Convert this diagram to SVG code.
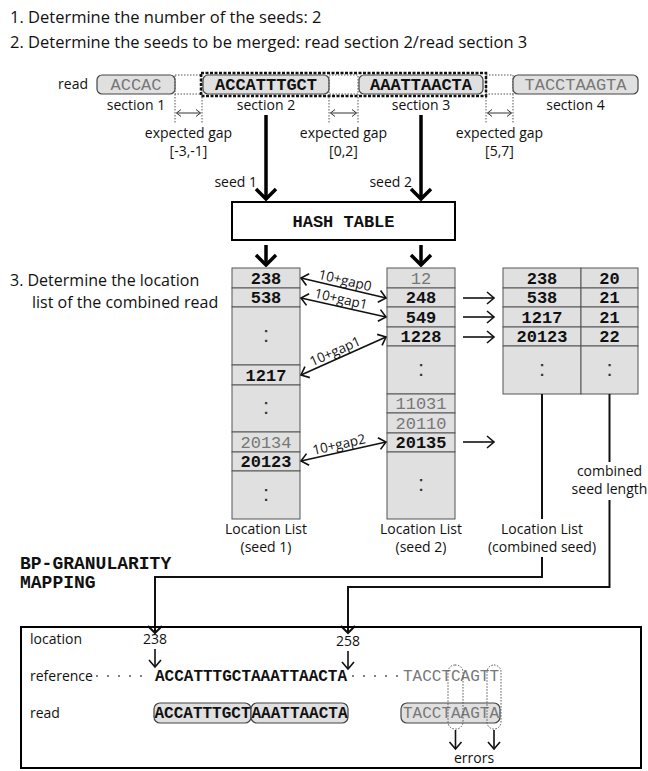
<svg xmlns="http://www.w3.org/2000/svg" width="648" height="771" viewBox="0 0 648 771">
<defs>
<style>
.t{font-family:"Open Sans","Liberation Sans",sans-serif;fill:#111}
.t16{font-size:16.5px}
.t14{font-size:14px}
.lab{font-size:13.5px}
.m{font-family:"Liberation Mono","DejaVu Sans Mono",monospace;fill:#111}
.b{font-weight:bold}
.g{fill:#777}
.c{text-anchor:middle}
.m17{font-size:17px}
.m16{font-size:16px}
.col{font-family:"Liberation Sans",sans-serif;font-size:22px;fill:#333;text-anchor:middle}
.cell{fill:#e0e0e0;stroke:#555;stroke-width:1}
.sec{fill:#e0e0e0;stroke:#444;stroke-width:1.2}
.dot{fill:none;stroke:#555;stroke-width:1;stroke-dasharray:1.5 1.5}
.thin{fill:none;stroke:#111;stroke-width:1.6}
.tiny{fill:none;stroke:#333;stroke-width:1}
.thick{fill:none;stroke:#000;stroke-width:3.5}
.conn{fill:none;stroke:#111;stroke-width:2}
.lead{fill:none;stroke:#444;stroke-width:1.8;stroke-dasharray:0 11;stroke-linecap:round}
</style>
<marker id="big" viewBox="-14 -12 16 24" refX="0" refY="0" markerWidth="16" markerHeight="24" markerUnits="userSpaceOnUse" orient="auto">
<path d="M-10,-10 L0,0 L-10,10" fill="none" stroke="#000" stroke-width="3.5"/>
</marker>
<marker id="sm" viewBox="-9 -8 11 16" refX="0" refY="0" markerWidth="11" markerHeight="16" markerUnits="userSpaceOnUse" orient="auto-start-reverse">
<path d="M-7,-6 L0,0 L-7,6" fill="none" stroke="#111" stroke-width="1.6"/>
</marker>
<marker id="tiny" viewBox="-6 -5 7 10" refX="0" refY="0" markerWidth="7" markerHeight="10" markerUnits="userSpaceOnUse" orient="auto-start-reverse">
<path d="M-4.5,-3.5 L0,0 L-4.5,3.5" fill="none" stroke="#333" stroke-width="1"/>
</marker>
<marker id="cn" viewBox="-9 -8 11 16" refX="0" refY="0" markerWidth="11" markerHeight="16" markerUnits="userSpaceOnUse" orient="auto">
<path d="M-7,-7 L0,0 L-7,7" fill="none" stroke="#111" stroke-width="2"/>
</marker>
</defs>

<g id="steps">
<text class="t t16" x="10" y="23">1. Determine the number of the seeds: 2</text>
<text class="t t16" x="10" y="48">2. Determine the seeds to be merged: read section 2/read section 3</text>
<text class="t" font-size="16" x="10" y="286">3. Determine the location</text>
<text class="t" font-size="16" x="32" y="308">list of the combined read</text>
</g>

<g id="read-top">
<text class="t t14" x="88" y="89" text-anchor="end">read</text>
<rect class="sec" x="97" y="75" width="78" height="19" rx="5"/>
<rect class="dot" x="175" y="75" width="27" height="19"/>
<rect class="sec" x="203" y="75" width="126" height="19" rx="5"/>
<rect class="dot" x="329" y="75" width="29" height="19"/>
<rect class="sec" x="359" y="75" width="124" height="19" rx="5"/>
<rect class="dot" x="486" y="75" width="27" height="19"/>
<rect class="sec" x="513" y="75" width="125" height="19" rx="5"/>
<rect x="201" y="73" width="285" height="23" fill="none" stroke="#111" stroke-width="2.5" stroke-dasharray="3 1.5"/>
<text class="m m17 g c" x="136" y="90">ACCAC</text>
<text class="m m17 b c" x="266" y="90">ACCATTTGCT</text>
<text class="m m17 b c" x="421" y="90">AAATTAACTA</text>
<text class="m m17 g c" x="575.5" y="90">TACCTAAGTA</text>
<text class="t t14 c" x="136" y="110">section 1</text>
<text class="t t14 c" x="266" y="110">section 2</text>
<text class="t t14 c" x="421" y="110">section 3</text>
<text class="t t14 c" x="575.5" y="110">section 4</text>
<path class="dot" d="M175,94V124M202,94V124M329,94V124M358,94V124M486,94V124M513,94V124"/>
<line class="tiny" x1="176.5" y1="113" x2="200.5" y2="113" marker-start="url(#tiny)" marker-end="url(#tiny)"/>
<line class="tiny" x1="330.5" y1="113" x2="356.5" y2="113" marker-start="url(#tiny)" marker-end="url(#tiny)"/>
<line class="tiny" x1="487.5" y1="113" x2="511.5" y2="113" marker-start="url(#tiny)" marker-end="url(#tiny)"/>
<text class="t t14 c" x="188.5" y="138">expected gap</text>
<text class="t t14 c" x="188.5" y="156">[-3,-1]</text>
<text class="t t14 c" x="343.5" y="138">expected gap</text>
<text class="t t14 c" x="343.5" y="156">[0,2]</text>
<text class="t t14 c" x="499.5" y="138">expected gap</text>
<text class="t t14 c" x="499.5" y="156">[5,7]</text>
<text class="t t14" x="257" y="187" text-anchor="end">seed 1</text>
<text class="t t14" x="412" y="187" text-anchor="end">seed 2</text>
</g>

<g id="hash-table">
<rect x="232" y="202" width="223" height="38" fill="#fff" stroke="#000" stroke-width="2"/>
<text class="m m17 b c" x="343.5" y="227">HASH TABLE</text>
</g>

<g id="list-seed1">
<rect class="cell" x="232" y="268" width="68" height="20"/>
<rect class="cell" x="232" y="288" width="68" height="19"/>
<rect class="cell" x="232" y="307" width="68" height="58"/>
<rect class="cell" x="232" y="365" width="68" height="20"/>
<rect class="cell" x="232" y="385" width="68" height="47"/>
<rect class="cell" x="232" y="432" width="68" height="20"/>
<rect class="cell" x="232" y="452" width="68" height="19"/>
<rect class="cell" x="232" y="471" width="68" height="48"/>
<text class="m m17 b c" x="266" y="284">238</text>
<text class="m m17 b c" x="266" y="303">538</text>
<text class="col" x="266" y="342">:</text>
<text class="m m17 b c" x="266" y="381">1217</text>
<text class="col" x="266" y="414">:</text>
<text class="m m17 g c" x="266" y="448">20134</text>
<text class="m m17 b c" x="266" y="467">20123</text>
<text class="col" x="266" y="501">:</text>
<text class="t t14 c" x="266" y="534">Location List</text>
<text class="t t14 c" x="266" y="552">(seed 1)</text>
</g>

<g id="list-seed2">
<rect class="cell" x="387" y="268" width="68" height="20"/>
<rect class="cell" x="387" y="288" width="68" height="19"/>
<rect class="cell" x="387" y="307" width="68" height="20"/>
<rect class="cell" x="387" y="327" width="68" height="19"/>
<rect class="cell" x="387" y="346" width="68" height="48"/>
<rect class="cell" x="387" y="394" width="68" height="19"/>
<rect class="cell" x="387" y="413" width="68" height="20"/>
<rect class="cell" x="387" y="433" width="68" height="19"/>
<rect class="cell" x="387" y="452" width="68" height="67"/>
<text class="m m17 g c" x="421" y="284">12</text>
<text class="m m17 b c" x="421" y="303">248</text>
<text class="m m17 b c" x="421" y="323">549</text>
<text class="m m17 b c" x="421" y="342">1228</text>
<text class="col" x="421" y="376">:</text>
<text class="m m17 g c" x="421" y="409">11031</text>
<text class="m m17 g c" x="421" y="429">20110</text>
<text class="m m17 b c" x="421" y="448">20135</text>
<text class="col" x="421" y="491">:</text>
<text class="t t14 c" x="421" y="534">Location List</text>
<text class="t t14 c" x="421" y="552">(seed 2)</text>
</g>

<g id="list-combined">
<rect class="cell" x="503" y="268" width="78" height="20"/>
<rect class="cell" x="503" y="288" width="78" height="19"/>
<rect class="cell" x="503" y="307" width="78" height="20"/>
<rect class="cell" x="503" y="327" width="78" height="19"/>
<rect class="cell" x="503" y="346" width="78" height="48"/>
<rect class="cell" x="581" y="268" width="57" height="20"/>
<rect class="cell" x="581" y="288" width="57" height="19"/>
<rect class="cell" x="581" y="307" width="57" height="20"/>
<rect class="cell" x="581" y="327" width="57" height="19"/>
<rect class="cell" x="581" y="346" width="57" height="48"/>
<text class="m m17 b c" x="542" y="284">238</text>
<text class="m m17 b c" x="542" y="303">538</text>
<text class="m m17 b c" x="542" y="323">1217</text>
<text class="m m17 b c" x="542" y="342">20123</text>
<text class="col" x="542" y="376">:</text>
<text class="m m17 b c" x="609.5" y="284">20</text>
<text class="m m17 b c" x="609.5" y="303">21</text>
<text class="m m17 b c" x="609.5" y="323">21</text>
<text class="m m17 b c" x="609.5" y="342">22</text>
<text class="col" x="609.5" y="376">:</text>
<text class="t t14 c" x="542" y="534">Location List</text>
<text class="t t14 c" x="542" y="552">(combined seed)</text>
<text class="t t14 c" x="609.5" y="476">combined</text>
<text class="t t14 c" x="609.5" y="494">seed length</text>
</g>

<g id="connectors">
<line class="thick" x1="266" y1="115" x2="266" y2="199" marker-end="url(#big)"/>
<line class="thick" x1="421" y1="115" x2="421" y2="199" marker-end="url(#big)"/>
<line class="thick" x1="266" y1="245" x2="266" y2="265" marker-end="url(#big)"/>
<line class="thick" x1="421" y1="245" x2="421" y2="265" marker-end="url(#big)"/>
<line class="thin" x1="301" y1="278" x2="386" y2="298" marker-start="url(#sm)" marker-end="url(#sm)"/>
<line class="thin" x1="301" y1="298" x2="386" y2="317" marker-start="url(#sm)" marker-end="url(#sm)"/>
<line class="thin" x1="301" y1="375" x2="386" y2="337" marker-start="url(#sm)" marker-end="url(#sm)"/>
<line class="thin" x1="301" y1="461" x2="386" y2="442" marker-start="url(#sm)" marker-end="url(#sm)"/>
<text class="t lab c" transform="translate(344,285) rotate(13.2)">10+gap0</text>
<text class="t lab c" transform="translate(340,303.5) rotate(12.6)">10+gap1</text>
<text class="t lab c" transform="translate(337,355.5) rotate(-24)">10+gap1</text>
<text class="t lab c" transform="translate(340,449) rotate(-12.6)">10+gap2</text>
<line class="thin" x1="463" y1="298" x2="494" y2="298" marker-end="url(#sm)"/>
<line class="thin" x1="463" y1="317" x2="494" y2="317" marker-end="url(#sm)"/>
<line class="thin" x1="463" y1="337" x2="494" y2="337" marker-end="url(#sm)"/>
<line class="thin" x1="463" y1="442" x2="494" y2="442" marker-end="url(#sm)"/>
<line class="conn" x1="542" y1="394" x2="542" y2="519"/>
<polyline class="conn" points="542,557 542,577 155,577 155,633" marker-end="url(#cn)"/>
<line class="conn" x1="609.5" y1="394" x2="609.5" y2="462"/>
<polyline class="conn" points="609.5,500 609.5,587 348,587 348,633" marker-end="url(#cn)"/>
</g>

<g id="bp-title">
<text class="m b" font-size="18" x="20" y="569">BP-GRANULARITY</text>
<text class="m b" font-size="18" x="20" y="588">MAPPING</text>
</g>

<g id="mapping-box">
<rect x="21" y="627" width="620" height="141" fill="none" stroke="#000" stroke-width="2"/>
<text class="t t14" x="30" y="644">location</text>
<text class="t t14 c" x="155" y="644">238</text>
<text class="t t14 c" x="348" y="646">258</text>
<line class="thin" x1="155" y1="649" x2="155" y2="667" marker-end="url(#sm)"/>
<line class="thin" x1="348" y1="651" x2="348" y2="669" marker-end="url(#sm)"/>
<text class="t t14" x="30" y="681">reference</text>
<line class="lead" x1="97" y1="676" x2="152" y2="676"/>
<text class="m m16 b" x="155" y="681">ACCATTTGCTAAATTAACTA</text>
<line class="lead" x1="353" y1="676" x2="398" y2="676"/>
<text class="m m16 g" x="403" y="681">TACCTCAGTT</text>
<text class="t t14" x="30" y="718">read</text>
<rect class="sec" x="154" y="703" width="97" height="20" rx="6"/>
<rect class="sec" x="251" y="703" width="97" height="20" rx="6"/>
<rect class="sec" x="401" y="703" width="99" height="20" rx="6"/>
<text class="m m16 b c" x="202.5" y="718">ACCATTTGCT</text>
<text class="m m16 b c" x="299.5" y="718">AAATTAACTA</text>
<text class="m m16 g" x="403" y="718">TACCTAAGTA</text>
<rect class="dot" x="448" y="665" width="15" height="64" rx="7"/>
<rect class="dot" x="487" y="665" width="14" height="64" rx="7"/>
<line class="thin" x1="455.5" y1="730" x2="455.5" y2="749" marker-end="url(#sm)"/>
<line class="thin" x1="494" y1="730" x2="494" y2="749" marker-end="url(#sm)"/>
<text class="t t14 c" x="474" y="763">errors</text>
</g>
</svg>
